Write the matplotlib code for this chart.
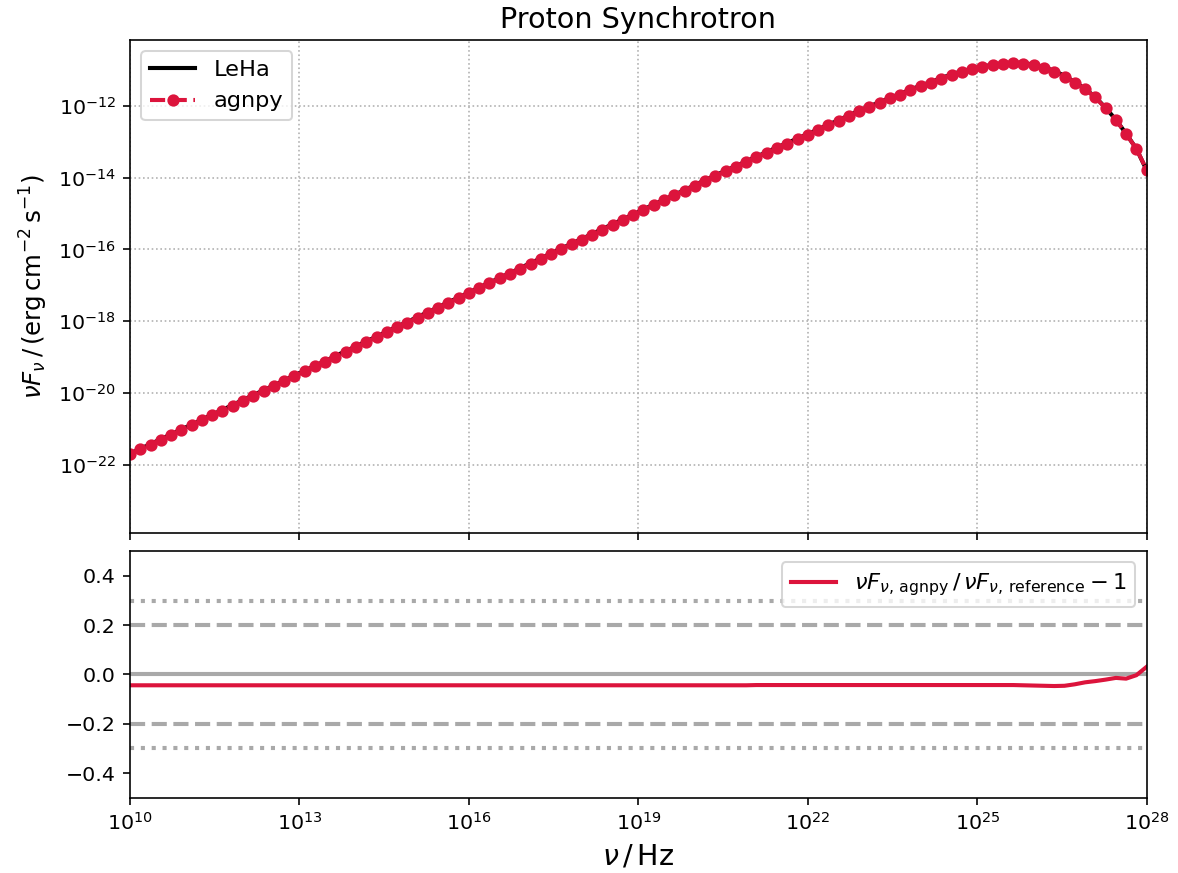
import matplotlib
matplotlib.use("Agg")
import matplotlib.pyplot as plt
import numpy as np

# frequency grid of the SED, 100 log-spaced points between 1e10 and 1e28 Hz
nu = np.logspace(10, 28, 100)

# LeHa proton synchrotron SED, log10(nuFnu / erg cm-2 s-1)
log_sed_leha = [
    -21.69, -21.55, -21.42, -21.28, -21.15, -21.01, -20.88, -20.74, -20.60, -20.47,
    -20.33, -20.19, -20.06, -19.92, -19.79, -19.65, -19.51, -19.38, -19.24, -19.11,
    -18.97, -18.83, -18.70, -18.56, -18.43, -18.29, -18.15, -18.02, -17.88, -17.75,
    -17.61, -17.47, -17.34, -17.20, -17.06, -16.93, -16.79, -16.66, -16.52, -16.38,
    -16.25, -16.11, -15.98, -15.84, -15.71, -15.57, -15.43, -15.30, -15.16, -15.03,
    -14.89, -14.75, -14.62, -14.48, -14.35, -14.21, -14.07, -13.94, -13.81, -13.68,
    -13.55, -13.42, -13.29, -13.16, -13.04, -12.91, -12.79, -12.66, -12.53, -12.40,
    -12.27, -12.14, -12.02, -11.90, -11.78, -11.67, -11.55, -11.44, -11.34, -11.23,
    -11.13, -11.04, -10.97, -10.91, -10.86, -10.82, -10.80, -10.81, -10.86, -10.93,
    -11.03, -11.17, -11.34, -11.53, -11.76, -12.06, -12.39, -12.78, -13.20, -13.80,
]

# relative deviation agnpy / LeHa - 1 on the same grid
deviation = [
    -0.044, -0.044, -0.044, -0.044, -0.044, -0.044, -0.044, -0.044, -0.044, -0.044,
    -0.044, -0.044, -0.044, -0.044, -0.044, -0.044, -0.044, -0.044, -0.044, -0.044,
    -0.044, -0.044, -0.044, -0.044, -0.044, -0.044, -0.044, -0.044, -0.044, -0.044,
    -0.044, -0.044, -0.044, -0.044, -0.044, -0.044, -0.044, -0.044, -0.044, -0.044,
    -0.044, -0.044, -0.044, -0.044, -0.044, -0.044, -0.044, -0.044, -0.044, -0.044,
    -0.044, -0.044, -0.044, -0.044, -0.044, -0.044, -0.044, -0.044, -0.044, -0.044,
    -0.044, -0.043, -0.043, -0.043, -0.043, -0.043, -0.043, -0.043, -0.043, -0.043,
    -0.043, -0.043, -0.043, -0.043, -0.043, -0.043, -0.043, -0.043, -0.043, -0.043,
    -0.043, -0.043, -0.043, -0.043, -0.043, -0.043, -0.043, -0.044, -0.045, -0.046,
    -0.047, -0.046, -0.040, -0.032, -0.027, -0.021, -0.014, -0.017, -0.003, 0.031,
]

sed_leha = 10 ** np.array(log_sed_leha)
sed_agnpy = sed_leha * (1 + np.array(deviation))

fig, (ax1, ax2) = plt.subplots(
    2, 1, sharex=True, figsize=(8.0, 5.929), dpi=147.25,
    gridspec_kw={"height_ratios": [2, 1]},
)
fig.subplots_adjust(left=0.1104, right=0.9734, top=0.9542, bottom=0.0863, hspace=0.05)

# SED comparison
ax1.loglog(nu, sed_leha, ls="-", lw=2, color="k", label="LeHa")
ax1.loglog(nu, sed_agnpy, ls="--", lw=2, color="crimson", marker="o", ms=5, label="agnpy")
ax1.set_ylabel(r"$\nu F_{\nu}\,/\,({\rm erg\,cm^{-2}\,s^{-1}})$", fontsize=12)
ax1.set_title("Proton Synchrotron", fontsize=14)
ax1.grid(ls=":")
ax1.legend(loc="upper left", fontsize=11)
ax1.set_ylim(10**-23.89, 10**-10.17)

# deviation panel
ax2.axhline(0, ls="-", lw=2, color="darkgray")
ax2.axhline(0.2, ls="--", lw=2, color="darkgray")
ax2.axhline(-0.2, ls="--", lw=2, color="darkgray")
ax2.axhline(0.3, ls=":", lw=2, color="darkgray")
ax2.axhline(-0.3, ls=":", lw=2, color="darkgray")
ax2.semilogx(nu, deviation, lw=2, color="crimson",
             label=r"$\nu F_{\nu,\,{\rm agnpy}}\,/\,\nu F_{\nu,\,{\rm reference}} - 1$")
ax2.set_ylim(-0.5, 0.5)
ax2.set_xlim(1e10, 1e28)
ax2.set_xlabel(r"$\nu\,/\,{\rm Hz}$", fontsize=14)
ax2.legend(loc="upper right", fontsize=11)

fig.savefig("out.png")
